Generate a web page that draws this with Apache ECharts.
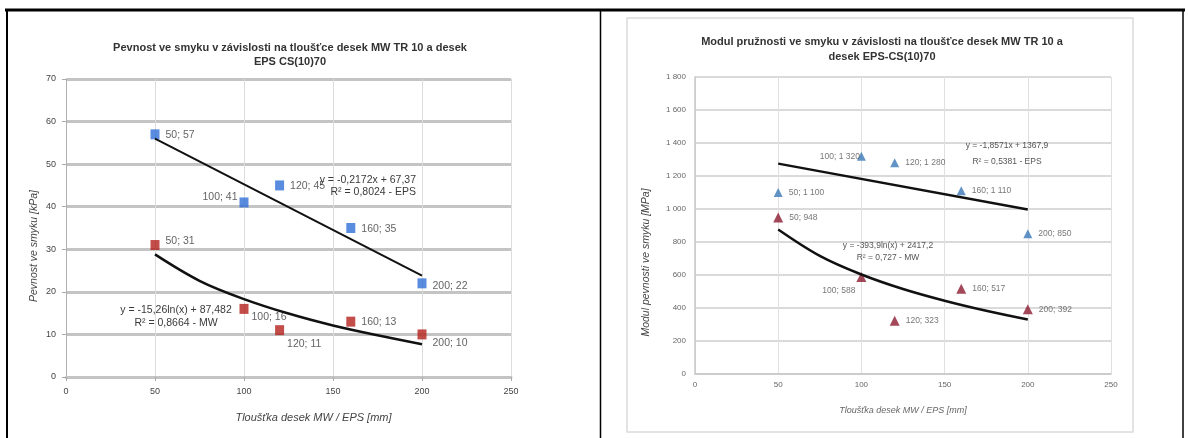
<!DOCTYPE html>
<html><head><meta charset="utf-8">
<script src="https://cdn.jsdelivr.net/npm/echarts@6/dist/echarts.min.js"></script>
<style>html,body{margin:0;padding:0;background:#fff}#c{width:1188px;height:438px}</style>
</head><body><div id="c"></div>
<script>
// ---------- data ----------
const thicknessTicks = [0, 50, 100, 150, 200, 250];
const strengthTicks = [0, 10, 20, 30, 40, 50, 60, 70];
const modulusTicks = [0, 200, 400, 600, 800, 1000, 1200, 1400, 1600, 1800];

const thickness = [50, 100, 120, 160, 200];
// left chart: shear strength [kPa]
const epsStrength = [57, 41, 45, 35, 22];
const mwStrength = [31, 16, 11, 13, 10];
const epsStrengthTrendX = [50, 200];
const epsStrengthTrendY = [56.0, 23.8];
const mwStrengthTrendX = [50, 75, 100, 125, 150, 175, 200];
const mwStrengthTrendY = [28.8, 22.6, 18.3, 14.9, 12.1, 9.8, 7.7];
// right chart: shear modulus [MPa]
const epsModulus = [1100, 1320, 1280, 1110, 850];
const mwModulus = [948, 588, 323, 517, 392];
const epsModulusTrendX = [50, 200];
const epsModulusTrendY = [1275, 997];
const mwModulusTrendX = [50, 75, 100, 125, 150, 175, 200];
const mwModulusTrendY = [876, 716, 603, 515, 444, 383, 330];

// texts
const titleLeft = ['Pevnost ve smyku v závislosti na tloušťce desek MW TR 10 a desek', 'EPS CS(10)70'];
const titleRight = ['Modul pružnosti ve smyku v závislosti na tloušťce desek MW TR 10 a', 'desek EPS-CS(10)70'];
const xNameLeft = 'Tloušťka desek MW / EPS [mm]';
const yNameLeft = 'Pevnost ve smyku [kPa]';
const xNameRight = 'Tloušťka desek MW / EPS [mm]';
const yNameRight = 'Modul pevnosti ve smyku [MPa]';
const eqLeftEps = ['y = -0,2172x + 67,37', 'R² = 0,8024 - EPS'];
const eqLeftMw = ['y = -15,26ln(x) + 87,482', 'R² = 0,8664 - MW'];
const eqRightEps = ['y = -1,8571x + 1367,9', 'R² = 0,5381 - EPS'];
const eqRightMw = ['y = -393,9ln(x) + 2417,2', 'R² = 0,727 - MW'];

// ---------- styling / building ----------
const FONT = '"Liberation Sans", Arial, sans-serif';
const sp = v => String(v).replace(/\B(?=(\d{3})+(?!\d))/g, ' ');
const zip = (a, b) => a.map((x, i) => [x, b[i]]);

// label placements (style only)
const lEpsPos = [['right', [1, 1]], ['left', [3, -5]], ['right', [1, 1]], ['right', [1, 1]], ['right', [1, 3]]];
const lMwPos = [['right', [1, -4]], ['right', [-2, 8]], ['right', [-2, 14]], ['right', [1, 0]], ['right', [1, 9]]];
const rEpsPos = [['right', [1, 0]], ['left', [8, 0]], ['right', [1, 0]], ['right', [1, 0]], ['right', [1, 0]]];
const rMwPos = [['right', [1, 0]], ['left', [4, 14]], ['right', [1, 0]], ['right', [1, 0]], ['right', [1, 0]]];

function pts(xs, ys, pos, fmt, size) {
  return xs.map((x, i) => ({
    value: [x, ys[i]],
    label: { position: pos[i][0], offset: pos[i][1], formatter: x + '; ' + fmt(ys[i]), fontSize: size }
  }));
}

function scatter(name, xi, data, color, symbol, size, labelColor) {
  return {
    name, type: 'scatter', xAxisIndex: xi, yAxisIndex: xi, data, symbol, symbolSize: size,
    itemStyle: { color }, z: 3,
    label: { show: true, color: labelColor, fontFamily: FONT },
    emphasis: { disabled: true }
  };
}
function trend(xi, xs, ys, smooth, w) {
  return {
    type: 'line', xAxisIndex: xi, yAxisIndex: xi, data: zip(xs, ys), smooth: smooth ? 0.35 : false,
    showSymbol: false, lineStyle: { color: '#111', width: w }, z: 4, silent: true
  };
}

function txt(lines, x, y, size, bold, align, gap, color) {
  return lines.map((t, i) => ({
    type: 'text', z: 10,
    style: { text: t, x, y: y + i * gap, textAlign: align, textVerticalAlign: 'middle',
      font: (bold ? 'bold ' : '') + size + 'px ' + FONT, fill: color || '#333' }
  }));
}

const chart = echarts.init(document.getElementById('c'), null, { renderer: 'canvas' });
const option = {
  backgroundColor: '#fff',
  animation: false,
  grid: [
    { left: 66, top: 79, width: 445, height: 298 },
    { left: 695, top: 77, width: 416, height: 297 }
  ],
  xAxis: [
    { type: 'value', gridIndex: 0, min: thicknessTicks[0], max: thicknessTicks[thicknessTicks.length - 1], interval: 50,
      name: xNameLeft, nameLocation: 'middle', nameGap: 35,
      nameTextStyle: { fontSize: 11, fontStyle: 'italic', color: '#444', fontFamily: FONT, padding: [0, 0, 0, 50] },
      axisLine: { lineStyle: { color: '#c4c4c4', width: 3 } },
      axisTick: { show: true, length: 4, lineStyle: { color: '#aaa' } },
      axisLabel: { fontSize: 9, color: '#444', margin: 10, fontFamily: FONT },
      splitLine: { show: true, lineStyle: { color: '#dcdcdc', width: 1 } } },
    { type: 'value', gridIndex: 1, min: thicknessTicks[0], max: thicknessTicks[thicknessTicks.length - 1], interval: 50,
      name: xNameRight, nameLocation: 'middle', nameGap: 32,
      nameTextStyle: { fontSize: 9, fontStyle: 'italic', color: '#666', fontFamily: FONT },
      axisLine: { lineStyle: { color: '#c8c8c8', width: 1.5 } },
      axisTick: { show: false },
      axisLabel: { fontSize: 8, color: '#666', margin: 7, fontFamily: FONT },
      splitLine: { show: true, lineStyle: { color: '#e0e0e0', width: 1 } } }
  ],
  yAxis: [
    { type: 'value', gridIndex: 0, min: strengthTicks[0], max: strengthTicks[strengthTicks.length - 1], interval: 10,
      name: yNameLeft, nameLocation: 'middle', nameGap: 26,
      nameTextStyle: { fontSize: 10.5, fontStyle: 'italic', color: '#444', fontFamily: FONT, padding: [0, 36, 0, 0] },
      axisLine: { show: true, lineStyle: { color: '#b0b0b0', width: 1 } },
      axisTick: { show: true, length: 4, lineStyle: { color: '#aaa' } },
      axisLabel: { fontSize: 9, color: '#444', margin: 10, fontFamily: FONT },
      splitLine: { show: true, lineStyle: { color: '#c4c4c4', width: 3 } } },
    { type: 'value', gridIndex: 1, min: modulusTicks[0], max: modulusTicks[modulusTicks.length - 1], interval: 200,
      name: yNameRight, nameLocation: 'middle', nameGap: 43,
      nameTextStyle: { fontSize: 10.5, fontStyle: 'italic', color: '#444', fontFamily: FONT, padding: [0, 74, 0, 0] },
      axisLine: { show: true, lineStyle: { color: '#c8c8c8', width: 1.5 } },
      axisTick: { show: false },
      axisLabel: { fontSize: 8, color: '#666', margin: 9, fontFamily: FONT, formatter: v => sp(v) },
      splitLine: { show: true, lineStyle: { color: '#dadada', width: 2 } } }
  ],
  series: [
    scatter('EPS', 0, pts(thickness, epsStrength, lEpsPos, v => v, 10.5), '#2f6fd6', 'rect', [9, 10], '#3a3a3a'),
    scatter('MW', 0, pts(thickness, mwStrength, lMwPos, v => v, 10.5), '#b3201c', 'rect', [9, 10], '#3a3a3a'),
    trend(0, epsStrengthTrendX, epsStrengthTrendY, false, 2),
    trend(0, mwStrengthTrendX, mwStrengthTrendY, true, 2.5),
    scatter('EPS', 1, pts(thickness, epsModulus, rEpsPos, sp, 8.5), '#3a78b8', 'triangle', 9, '#555'),
    scatter('MW', 1, pts(thickness, mwModulus, rMwPos, sp, 8.5), '#8c1a30', 'triangle', 10, '#555'),
    trend(1, epsModulusTrendX, epsModulusTrendY, false, 2.5),
    trend(1, mwModulusTrendX, mwModulusTrendY, true, 2.5)
  ],
  graphic: [
    { type: 'rect', shape: { x: 627, y: 18, width: 506, height: 414 }, style: { fill: null, stroke: '#dadada', lineWidth: 1.5 }, z: -1 },
    { type: 'line', shape: { x1: 5, y1: 10, x2: 1185, y2: 10 }, style: { stroke: '#000', lineWidth: 3 } },
    { type: 'line', shape: { x1: 7, y1: 9, x2: 7, y2: 438 }, style: { stroke: '#000', lineWidth: 2 } },
    { type: 'line', shape: { x1: 600.5, y1: 9, x2: 600.5, y2: 438 }, style: { stroke: '#000', lineWidth: 1.5 } },
    { type: 'line', shape: { x1: 1183, y1: 9, x2: 1183, y2: 438 }, style: { stroke: '#000', lineWidth: 1.5 } },
    ...txt(titleLeft, 290, 48, 11, true, 'center', 14, '#333'),
    ...txt(titleRight, 882, 42, 11, true, 'center', 15, '#333'),
    ...txt(eqLeftEps, 416, 180, 10.5, false, 'right', 12, '#3a3a3a'),
    ...txt(eqLeftMw, 176, 310, 10.5, false, 'center', 13, '#3a3a3a'),
    ...txt(eqRightEps, 1007, 146, 8.5, false, 'center', 16, '#555'),
    ...txt(eqRightMw, 888, 246, 8.5, false, 'center', 12, '#555')
  ]
};
chart.setOption(option);
</script></body></html>
